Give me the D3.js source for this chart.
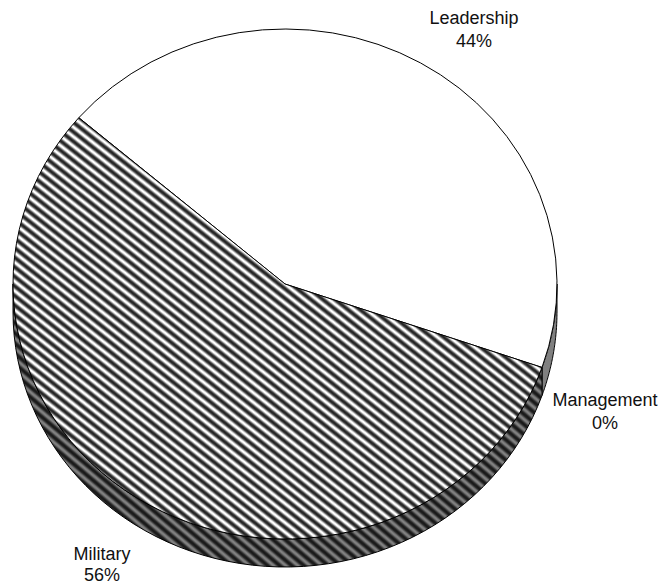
<!DOCTYPE html>
<html>
<head>
<meta charset="utf-8">
<script src="https://cdn.jsdelivr.net/npm/d3@7"></script>
<style>
  html, body { margin: 0; padding: 0; background: #fff; }
  svg { display: block; }
  text { font-family: "Liberation Sans", Arial, sans-serif; fill: #111; }
</style>
</head>
<body>
<svg id="chart" width="662" height="586"></svg>
<script>
// ---- data ----
const categories = ["Leadership", "Management", "Military"];
const values = [44, 0, 56];
const percentLabels = ["44%", "0%", "56%"];

// ---- layout ----
const W = 662, H = 586;
const cx = 285, cy = 284, rx = 272, ry = 255, depth = 28;
const startDeg = -49.3;

const svg = d3.select("#chart");
const defs = svg.append("defs");

function stripePattern(id, bg, dark) {
  const period = 7.8;
  const g = defs.append("linearGradient").attr("id", id + "-g")
    .attr("x1", 0).attr("x2", 1).attr("y1", 0).attr("y2", 0);
  const mid = d3.interpolateRgb(bg, dark);
  [[0, bg], [0.1, bg], [0.27, mid(0.65)], [0.38, dark], [0.62, dark],
   [0.73, mid(0.65)], [0.9, bg], [1, bg]]
    .forEach(([o, c]) => g.append("stop").attr("offset", o).attr("stop-color", c));
  const p = defs.append("pattern").attr("id", id)
    .attr("patternUnits", "userSpaceOnUse")
    .attr("width", period).attr("height", 20)
    .attr("patternTransform", "rotate(-50)");
  p.append("rect").attr("width", period).attr("height", 20).attr("fill", `url(#${id}-g)`);
}
stripePattern("hatchTop", "#ffffff", "#262626");
stripePattern("hatchSide", "#808080", "#1a1a1a");

const topFill = { Leadership: "#ffffff", Management: "#ffffff", Military: "url(#hatchTop)" };
const sideFill = { Leadership: "#808080", Management: "#808080", Military: "url(#hatchSide)" };

const pie = d3.pie().sort(null).value(d => d.value)
  .startAngle(startDeg * Math.PI / 180)
  .endAngle(startDeg * Math.PI / 180 + 2 * Math.PI);
const data = categories.map((c, i) => ({ name: c, value: values[i], label: percentLabels[i] }));
const arcs = pie(data);

// point on ellipse for d3 angle (0 = 12 o'clock, clockwise)
const pt = (a, dy = 0) => [cx + rx * Math.sin(a), cy - ry * Math.cos(a) + dy];

// ---- side (visible front half: d3 angles 90..270 deg) ----
const sideG = svg.append("g");
arcs.forEach(a => {
  const ranges = [];
  for (const k of [-1, 0, 1]) {
    const lo = Math.max(a.startAngle, Math.PI / 2 + k * 2 * Math.PI);
    const hi = Math.min(a.endAngle, 3 * Math.PI / 2 + k * 2 * Math.PI);
    if (hi - lo > 1e-6) ranges.push([lo, hi]);
  }
  ranges.forEach(([lo, hi]) => {
    const p = d3.path();
    const n = 60;
    for (let i = 0; i <= n; i++) {
      const [x, y] = pt(lo + (hi - lo) * i / n);
      i === 0 ? p.moveTo(x, y) : p.lineTo(x, y);
    }
    for (let i = n; i >= 0; i--) {
      const [x, y] = pt(lo + (hi - lo) * i / n, depth);
      p.lineTo(x, y);
    }
    p.closePath();
    sideG.append("path").attr("d", p.toString())
      .attr("fill", sideFill[a.data.name])
      .attr("stroke", "#000").attr("stroke-width", 1).attr("stroke-linejoin", "round");
  });
});

// ---- top face ----
const arc = d3.arc().innerRadius(0).outerRadius(rx);
svg.append("g")
  .attr("transform", `translate(${cx},${cy}) scale(1,${ry / rx})`)
  .selectAll("path").data(arcs.filter(d => d.value > 0)).join("path")
  .attr("d", arc)
  .attr("fill", d => topFill[d.data.name])
  .attr("stroke", "#000").attr("stroke-width", 1)
  .attr("vector-effect", "non-scaling-stroke")
  .attr("stroke-linejoin", "round");

// ---- labels ----
const labelPos = { Leadership: [474, 24, 23], Management: [605, 406, 23], Military: [102, 560, 21] };
const lg = svg.append("g");
arcs.forEach(a => {
  const [x, y, dy] = labelPos[a.data.name];
  const t = lg.append("text").attr("x", x).attr("y", y)
    .attr("text-anchor", "middle").attr("font-size", 18);
  t.append("tspan").attr("x", x).text(a.data.name);
  t.append("tspan").attr("x", x).attr("dy", dy).text(a.data.label);
});
</script>
</body>
</html>
